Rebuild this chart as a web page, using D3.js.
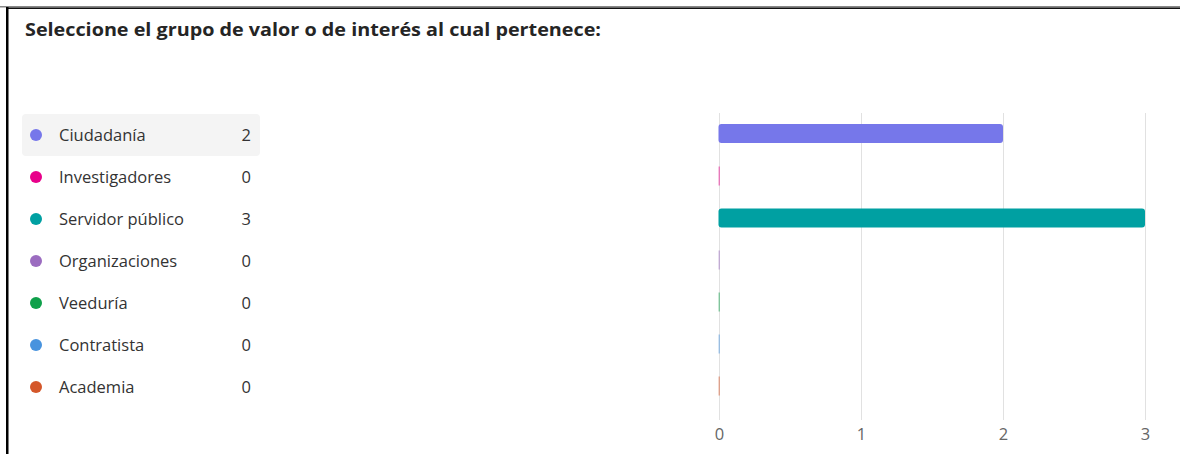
<!DOCTYPE html>
<html><head><meta charset="utf-8">
<script src="https://cdn.jsdelivr.net/npm/d3@7"></script>
<style>
html,body{margin:0;padding:0;background:#fff;}
svg{display:block;}
</style></head>
<body><svg id="c" width="1180" height="454"></svg>
<script>
const title = "Seleccione el grupo de valor o de interés al cual pertenece:";
const categories = ["Ciudadanía","Investigadores","Servidor público","Organizaciones","Veeduría","Contratista","Academia"];
const values = [2,0,3,0,0,0,0];
const colors = ["#7677EA","#E8008A","#00A0A2","#9B6CC0","#0FA04A","#4893DE","#D4572A"];
const tickValues = [0,1,2,3];

const svg = d3.select("#c");
const font = "'Segoe UI','Open Sans','Noto Sans',sans-serif";

// frame
svg.append("rect").attr("x",0).attr("y",6).attr("width",1180).attr("height",1.5).attr("fill","#888");
svg.append("rect").attr("x",7).attr("y",7.5).attr("width",1173).attr("height",1.5).attr("fill","#111");
svg.append("rect").attr("x",6).attr("y",7).attr("width",2.5).attr("height",447).attr("fill","#000");

svg.append("text").attr("x",25).attr("y",36).text(title)
  .attr("font-family",font).attr("font-weight","bold").attr("font-size",18.5).attr("fill","#252525")
  .attr("textLength",576).attr("lengthAdjust","spacingAndGlyphs");

const y = d3.scaleBand().domain(categories).range([114,408]).paddingInner(0);
const x = d3.scaleLinear().domain([0,3]).range([719,1145]);

// legend
const leg = svg.append("g");
leg.append("rect").attr("x",22).attr("y",y(categories[0])).attr("width",238).attr("height",y.bandwidth())
  .attr("rx",4).attr("fill","#f4f4f4");
const rows = leg.selectAll("g.row").data(categories).join("g").attr("class","row")
  .attr("transform",d=>`translate(0,${y(d)+y.bandwidth()/2})`);
rows.append("circle").attr("cx",36).attr("cy",0).attr("r",6).attr("fill",(d,i)=>colors[i]);
rows.append("text").attr("x",59).attr("y",6).text(d=>d)
  .attr("font-family",font).attr("font-size",16.5).attr("fill","#333");
rows.append("text").attr("x",251).attr("y",6).attr("text-anchor","end").text((d,i)=>values[i])
  .attr("font-family",font).attr("font-size",16.5).attr("fill","#333");

// grid
const axis = d3.axisBottom(x).tickValues(tickValues).tickSize(-(420-113)).tickFormat(d3.format("d"));
const ag = svg.append("g").attr("transform","translate(0,420)").call(axis);
ag.select(".domain").remove();
ag.selectAll(".tick line").attr("stroke","#e1e1e1").attr("stroke-width",1);
ag.selectAll(".tick text").attr("font-family",font).attr("font-size",16.5).attr("fill","#666")
  .attr("y",20).attr("dy","0");

// bars
const bh = 19;
svg.append("g").selectAll("rect").data(categories).join("rect")
  .attr("x",x(0)-0.5)
  .attr("y",d=>y(d)+y.bandwidth()/2-bh/2+ (d===categories[0]? -1.5 : -1))
  .attr("width",(d,i)=>Math.max(1.5,x(values[i])-x(0)+0.5))
  .attr("height",bh)
  .attr("rx",(d,i)=>values[i]>0?3:0)
  .attr("fill",(d,i)=>colors[i])
  .attr("opacity",(d,i)=>values[i]>0?1:0.45);
</script>
</body></html>
